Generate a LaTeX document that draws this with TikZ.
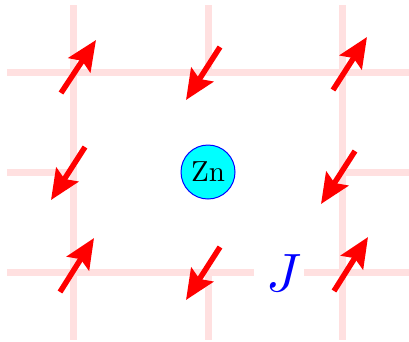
\documentclass[tikz,border=0pt]{standalone}
\usepackage{graphicx}
\usetikzlibrary{arrows.meta}
\definecolor{aqua}{RGB}{0,255,255}
\definecolor{gridpink}{RGB}{255,224,224}
\begin{document}
\begin{tikzpicture}[x=1pt,y=-1pt,
  gridline/.style={draw=gridpink,line width=7pt},
  spin/.style={draw=red,line width=5.5pt,-{Stealth[length=30pt,width=26pt,inset=5pt]}},
  znatom/.style={circle,fill=aqua,draw=blue,line width=1pt,minimum size=54pt,inner sep=0pt}]
\useasboundingbox (0,0) rectangle (409,341);
% grid
\draw[gridline] (7,72) -- (409,72);
\draw[gridline] (7,172) -- (73,172);
\draw[gridline] (342,172) -- (409,172);
\draw[gridline] (7,272) -- (254,272);
\draw[gridline] (304,272) -- (409,272);
\draw[gridline] (73,5) -- (73,340);
\draw[gridline] (208,5) -- (208,72);
\draw[gridline] (208,272) -- (208,340);
\draw[gridline] (342,5) -- (342,340);
% Zn atom
\node[znatom] (zn) at (208,172) {\scalebox{2.9}{Zn}};
% coupling label
\node[text=blue,inner sep=0pt] (J) at (284,273) {\scalebox{5.4}{$J$}};
% spins
\draw[spin] (61,93) -- (96,40);
\draw[spin] (220,47) -- (186,100);
\draw[spin] (333,90) -- (367,37);
\draw[spin] (85,147) -- (51,200);
\draw[spin] (355,151) -- (321,204);
\draw[spin] (60,292) -- (94,238);
\draw[spin] (220,247) -- (186,300);
\draw[spin] (334,291) -- (368,237);
\end{tikzpicture}
\end{document}
